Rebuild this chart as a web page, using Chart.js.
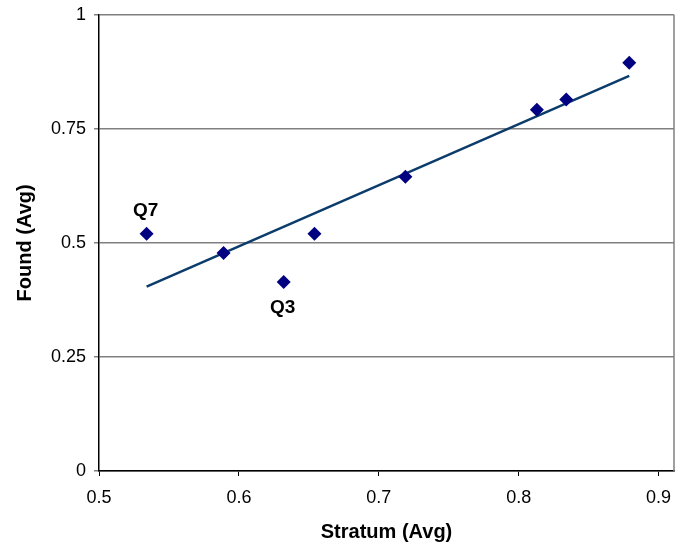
<!DOCTYPE html>
<html>
<head>
<meta charset="utf-8">
<script src="https://cdn.jsdelivr.net/npm/chart.js@4/dist/chart.umd.min.js"></script>
<style>
  html, body { margin: 0; padding: 0; background: #fff; }
  #wrap { width: 690px; height: 547px; }
</style>
</head>
<body>
<div id="wrap"><canvas id="chart"></canvas></div>
<script>
/* ===== Data ===== */
const stratumAvg = [0.534, 0.589, 0.632, 0.654, 0.719, 0.813, 0.834, 0.879];
const foundAvg   = [0.520, 0.478, 0.414, 0.520, 0.645, 0.792, 0.814, 0.895];
const pointNames = ['Q7', '', 'Q3', '', '', '', '', ''];
const trendX = [0.534, 0.879];
const trendY = [0.404, 0.866];
const xTicks = [0.5, 0.6, 0.7, 0.8, 0.9];
const yTicks = [0, 0.25, 0.5, 0.75, 1];

const FONT = 'Arial, "Liberation Sans", sans-serif';

/* ===== Plugins: labels + right border ===== */
const pointLabels = {
  id: 'pointLabels',
  afterDatasetsDraw(chart) {
    const { ctx, scales: { x, y } } = chart;
    ctx.save();
    ctx.font = 'bold 19px ' + FONT;
    ctx.fillStyle = '#000';
    ctx.textAlign = 'center';
    ctx.textBaseline = 'middle';
    pointNames.forEach((n, i) => {
      if (!n) return;
      const px = x.getPixelForValue(stratumAvg[i]);
      const py = y.getPixelForValue(foundAvg[i]);
      // Q7 above the point, Q3 below
      const dy = n === 'Q7' ? -23 : 26;
      ctx.fillText(n, px - 1, py + dy);
    });
    ctx.restore();
  }
};
const rightBorder = {
  id: 'rightBorder',
  beforeDatasetsDraw(chart) {
    const { ctx, chartArea: a } = chart;
    ctx.save();
    ctx.strokeStyle = '#808080';
    ctx.lineWidth = 1.5;
    ctx.beginPath();
    ctx.moveTo(a.right, a.top);
    ctx.lineTo(a.right, a.bottom);
    ctx.stroke();
    ctx.restore();
  }
};

new Chart(document.getElementById('chart'), {
  type: 'scatter',
  data: {
    datasets: [
      {
        label: 'Found',
        data: stratumAvg.map((v, i) => ({ x: v, y: foundAvg[i] })),
        pointStyle: 'rectRot',
        pointRadius: 7,
        pointHoverRadius: 7,
        backgroundColor: '#000080',
        borderColor: '#000080',
        borderWidth: 0,
        showLine: false
      },
      {
        label: 'Trend',
        data: trendX.map((v, i) => ({ x: v, y: trendY[i] })),
        showLine: true,
        borderColor: '#0B3C6B',
        borderWidth: 2.5,
        pointRadius: 0,
        fill: false
      }
    ]
  },
  options: {
    responsive: true,
    maintainAspectRatio: false,
    animation: false,
    layout: { padding: { top: 0, right: 16, left: 13, bottom: 3 } },
    plugins: {
      legend: { display: false },
      tooltip: { enabled: false }
    },
    scales: {
      x: {
        type: 'linear',
        min: 0.5,
        max: 0.911,
        afterBuildTicks: s => { s.ticks = xTicks.map(v => ({ value: v })); },
        ticks: {
          font: { family: FONT, size: 18, lineHeight: 1 },
          color: '#000',
          padding: 13,
          maxRotation: 0,
          callback: v => String(v)
        },
        grid: { drawOnChartArea: false, drawTicks: true, tickLength: 5, color: '#000' },
        border: { color: '#000', width: 1.5 },
        title: {
          display: true,
          text: 'Stratum (Avg)',
          font: { family: FONT, size: 20, weight: 'bold' },
          color: '#000',
          padding: { top: 0, bottom: 0 }
        }
      },
      y: {
        min: 0,
        max: 1,
        afterBuildTicks: s => { s.ticks = yTicks.map(v => ({ value: v })); },
        ticks: {
          font: { family: FONT, size: 18, lineHeight: 0.75 },
          color: '#000',
          padding: 8,
          callback: v => String(v)
        },
        grid: { color: '#808080', lineWidth: 1.5, tickLength: 5 },
        border: { color: '#000', width: 1.5 },
        title: {
          display: true,
          text: 'Found (Avg)',
          font: { family: FONT, size: 20, weight: 'bold' },
          color: '#000',
          padding: { top: 0, bottom: 6 }
        }
      }
    }
  },
  plugins: [pointLabels, rightBorder]
});
</script>
</body>
</html>
